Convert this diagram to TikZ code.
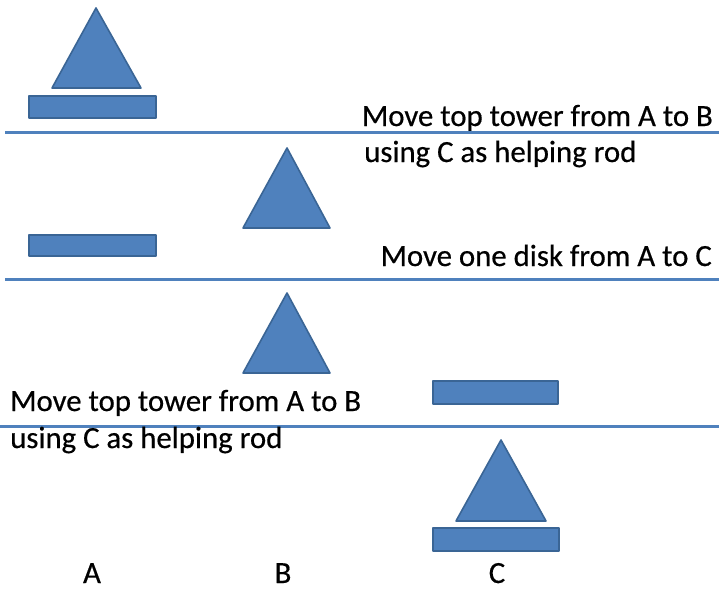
\documentclass[tikz,border=0pt]{standalone}
\usepackage{fontspec}
\setmainfont[FakeBold=0.5]{Carlito}
\definecolor{diskblue}{HTML}{4F81BD}
\definecolor{diskedge}{HTML}{3A6595}
\definecolor{ruleblue}{HTML}{4F81BD}
\begin{document}
\begin{tikzpicture}[x=1pt,y=-1pt,
  piece/.style={fill=diskblue,draw=diskedge,line width=1.6pt,line join=round},
  stagerule/.style={draw=ruleblue,line width=3pt},
  caption/.style={inner sep=0pt,font=\fontsize{30.8}{34}\selectfont},
  rodlabel/.style={inner sep=0pt,anchor=base,font=\fontsize{30.8}{34}\selectfont}]
\useasboundingbox (0,0) rectangle (719,589);

% stage 1: whole tower on A
\draw[piece] (96,8) -- (141,88) -- (52,88) -- cycle;
\draw[piece] (29,96) rectangle (156,118);
\node[caption,anchor=base east] (s1a) at (713,126) {Move top tower from A to B};
\draw[stagerule] (5,132) -- (719,132);
\node[caption,anchor=base west] (s1b) at (364,162) {using C as helping rod};

% stage 2: top tower on B
\draw[piece] (287,148) -- (330,228) -- (243,228) -- cycle;
\draw[piece] (29,235) rectangle (156,256);
\node[caption,anchor=base east] (s2) at (712,266) {Move one disk from A to C};
\draw[stagerule] (5,279) -- (719,279);

% stage 3: bottom disk on C
\draw[piece] (287,293) -- (330,373) -- (243,373) -- cycle;
\draw[piece] (433,381) rectangle (558,404);
\node[caption,anchor=base west] (s3a) at (10,411) {Move top tower from A to B};
\draw[stagerule] (0,426) -- (719,426);
\node[caption,anchor=base west] (s3b) at (10,448) {using C as helping rod};

% stage 4: whole tower on C
\draw[piece] (501,440) -- (546,521) -- (456,521) -- cycle;
\draw[piece] (433,528) rectangle (559,551);

% rod names
\node[rodlabel] (rodA) at (92,583) {A};
\node[rodlabel] (rodB) at (283,583) {B};
\node[rodlabel] (rodC) at (497,583) {C};
\end{tikzpicture}
\end{document}
